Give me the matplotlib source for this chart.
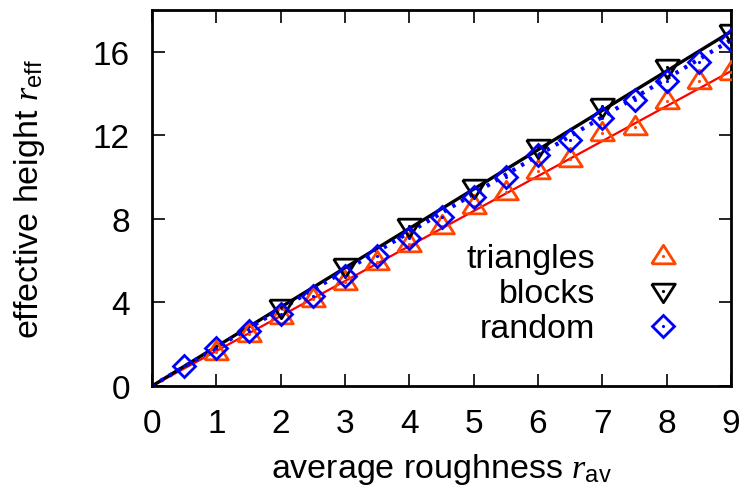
import matplotlib
matplotlib.use("Agg")
import matplotlib.pyplot as plt

plt.rcParams['font.family'] = ['Liberation Sans', 'DejaVu Sans']
plt.rcParams['mathtext.fontset'] = 'custom'
plt.rcParams['mathtext.rm'] = 'Liberation Sans'
plt.rcParams['mathtext.it'] = 'Liberation Serif:italic'

# data
tri_x = [1, 1.5, 2, 2.5, 3, 3.5, 4, 4.5, 5, 5.5, 6, 6.5, 7, 7.5, 8, 8.5, 9]
tri_y = [1.65, 2.5, 3.35, 4.15, 5.0, 5.95, 6.8, 7.65, 8.6, 9.3, 10.27, 10.85, 12.13, 12.4, 13.65, 14.6, 15.05]
blk_x = [2, 3, 4, 5, 6, 7, 8, 9]
blk_y = [3.78, 5.73, 7.64, 9.55, 11.46, 13.4, 15.25, 16.95]
rnd_x = [0.5, 1, 1.5, 2, 2.5, 3, 3.5, 4, 4.5, 5, 5.5, 6, 6.5, 7, 7.5, 8, 8.5, 9]
rnd_y = [0.95, 1.8, 2.64, 3.44, 4.3, 5.25, 6.2, 7.1, 8.07, 9.03, 10.0, 11.08, 11.8, 12.85, 13.7, 14.6, 15.5, 16.55]
fit_slopes = {'triangles': 1.675, 'blocks': 1.885, 'random': 1.84}
series_names = ['triangles', 'blocks', 'random']
x_ticks = [0, 1, 2, 3, 4, 5, 6, 7, 8, 9]
y_ticks = [0, 4, 8, 12, 16]

c_tri = '#ff4500'
c_blk = 'black'
c_rnd = '#0000ff'

W, H = 746, 489
fig = plt.figure(figsize=(W/100, H/100), dpi=100)
L, R, T, B = 152, 731, 11, 387
ax = fig.add_axes([L/W, (H-B)/H, (R-L)/W, (B-T)/H])

xfit = [0, 9]
ax.plot(xfit, [fit_slopes['triangles']*v for v in xfit], color='red', lw=1.6, zorder=2)
ax.plot(xfit, [fit_slopes['blocks']*v for v in xfit], color='black', lw=2.4, zorder=2)
ax.plot(xfit, [fit_slopes['random']*v for v in xfit], color=c_rnd, lw=3.0, ls=(0, (0.8, 1.6)), zorder=2)

up_tri = [(-1, -0.62), (1, -0.62), (0, 0.95), (-1, -0.62)]
down_tri = [(-1, 0.62), (1, 0.62), (0, -0.95), (-1, 0.62)]

styles = {
    'triangles': dict(marker=up_tri, ms=17, mec=c_tri),
    'blocks': dict(marker=down_tri, ms=17, mec=c_blk),
    'random': dict(marker='D', ms=11.5, mec=c_rnd),
}
colors = {'triangles': c_tri, 'blocks': c_blk, 'random': c_rnd}
xs = {'triangles': tri_x, 'blocks': blk_x, 'random': rnd_x}
ys = {'triangles': tri_y, 'blocks': blk_y, 'random': rnd_y}

for name in series_names:
    ax.plot(xs[name], ys[name], ls='none', mfc='none', mew=2.0, zorder=3, **styles[name])
    ax.plot(xs[name], ys[name], ls='none', marker='.', ms=2.5, color=colors[name], zorder=3)

ax.set_xlim(0, 9)
ax.set_ylim(0, 18)
ax.set_xticks(x_ticks)
ax.set_yticks(y_ticks)
ax.tick_params(direction='in', length=9, width=1.2, top=True, right=True,
               labelsize=24, pad=16)
for s in ax.spines.values():
    s.set_linewidth(2)

fs = 24.5
ax.set_xlabel(r'average roughness $r_{\mathrm{av}}$', fontsize=fs, va='center')
ax.xaxis.set_label_coords(0.5, (B-470)/(B-T))
ax.set_ylabel(r'effective height $r_{\mathrm{eff}}$', fontsize=fs, va='center')
ax.yaxis.set_label_coords((30-L)/(R-L), 0.5)

# key (legend), gnuplot style: text right-aligned, marker on the right
text_x = (595-L)/(R-L)
mark_x = (663-L)/(R-L)
mark_cy = [257, 292, 327]
for name, cy in zip(series_names, mark_cy):
    ya = (B-cy)/(B-T)
    yb = (B-(cy+11))/(B-T)
    ax.text(text_x, yb, name, transform=ax.transAxes, ha='right', va='baseline', fontsize=fs)
    ax.plot([mark_x], [ya], transform=ax.transAxes, ls='none', mfc='none', mew=2.0,
            clip_on=False, **styles[name])
    ax.plot([mark_x], [ya], transform=ax.transAxes, ls='none', marker='.', ms=2.5,
            color=colors[name], clip_on=False)

fig.savefig('out.png', dpi=100)
